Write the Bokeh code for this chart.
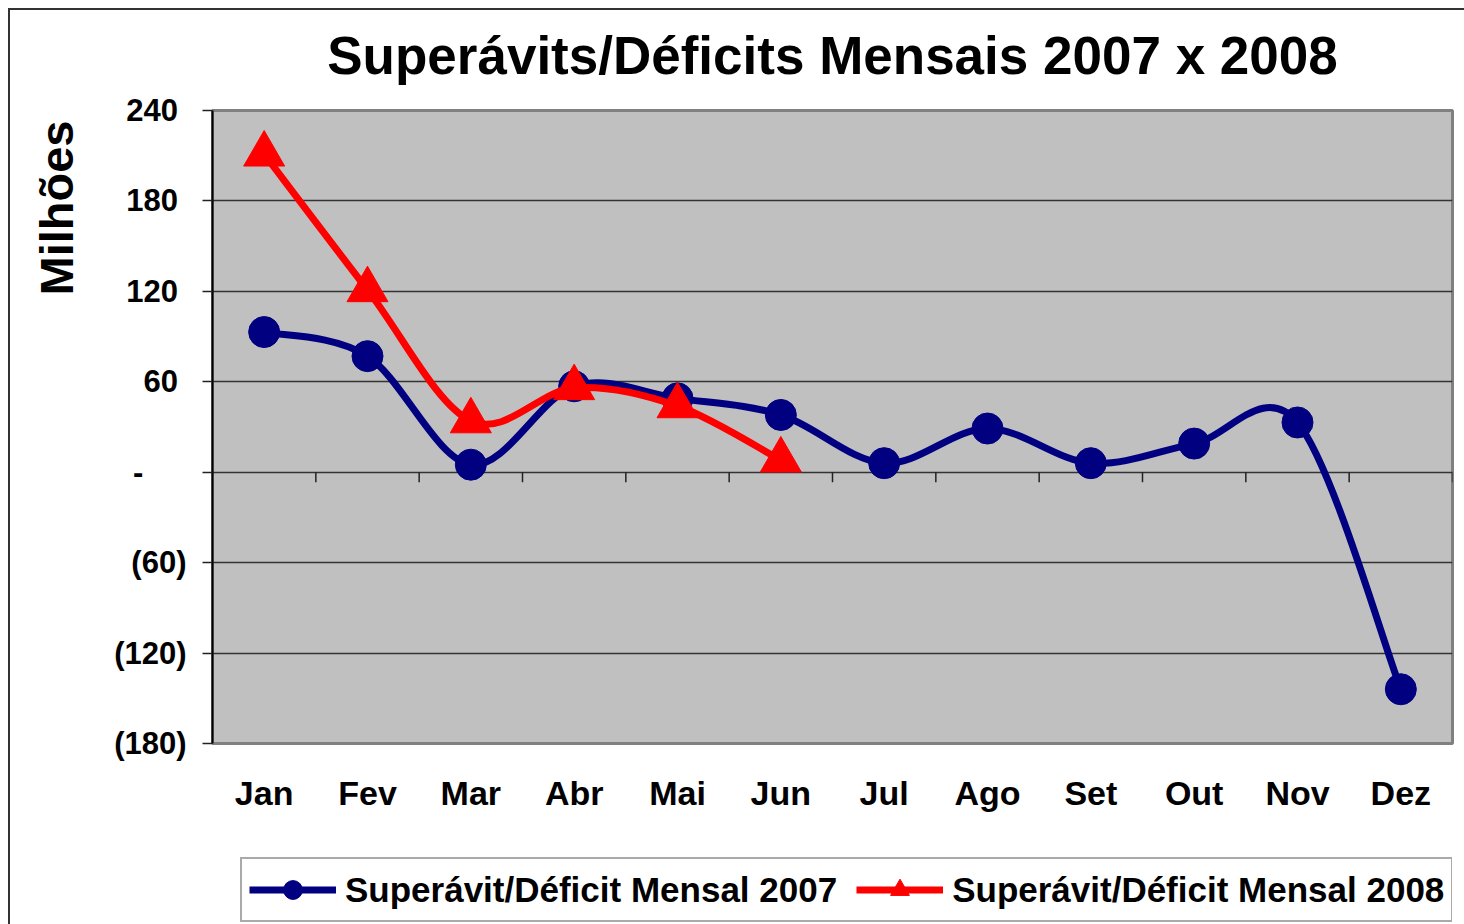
from bokeh.plotting import figure
from bokeh.layouts import column
from bokeh.models import (FixedTicker, Legend, LegendItem, ColumnDataSource, Range1d, Title)
from bokeh.embed import file_html
from bokeh.resources import INLINE

# ---------------- data ----------------
months = ["Jan", "Fev", "Mar", "Abr", "Mai", "Jun", "Jul", "Ago", "Set", "Out", "Nov", "Dez"]
values_2007 = [93, 77, 5, 57, 49, 38, 6, 29, 6, 19, 33, -144]
values_2008 = [211, 121, 34, 56, 44, 8]
y_ticks = [-180, -120, -60, 0, 60, 120, 180, 240]
y_tick_labels = ["(180)", "(120)", "(60)", "-", "60", "120", "180", "240"]
title_text = "Superávits/Déficits Mensais 2007 x 2008"
y_title = "Milhões"
legend_labels = ["Superávit/Déficit Mensal 2007", "Superávit/Déficit Mensal 2008"]

# ---------------- style ----------------
FONT = "Liberation Sans"
NAVY = "#000080"
RED = "#FF0000"
W = 1464
H_MAIN, H_LEG = 829, 95
ML, MT, MR, MB = 212, 110, 12, 86
FRAME_H = H_MAIN - MT - MB

x_pos = list(range(1, len(months) + 1))
x07 = x_pos
x08 = x_pos[:len(values_2008)]

p = figure(width=W, height=H_MAIN, output_backend="svg", toolbar_location=None,
           x_range=Range1d(0.5, 12.5), y_range=Range1d(-180, 240),
           min_border_left=ML, min_border_top=MT, min_border_right=MR, min_border_bottom=MB)
p.background_fill_color = "#C0C0C0"
p.border_fill_alpha = 0
p.outline_line_color = "#808080"
p.outline_line_width = 3
# outer chart frame (left and top edges) drawn behind the transparent canvas border
p.styles = {"background": "linear-gradient(#333,#333) 8px 8px / 2px 100% no-repeat, "
                          "linear-gradient(#333,#333) 8px 8px / 100% 2px no-repeat, #ffffff"}

# chart title
p.title.text = title_text
p.title.align = "center"
p.title.vertical_align = "top"
p.title.standoff = 48
p.title.text_font = FONT
p.title.text_font_style = "bold"
p.title.text_font_size = "53px"
p.title.text_color = "black"

# axes
xa = p.xaxis[0]
xa.ticker = FixedTicker(ticks=x_pos)
xa.major_label_overrides = {x: m for x, m in zip(x_pos, months)}
xa.axis_line_color = None
xa.major_tick_line_color = None
xa.minor_tick_line_color = None
xa.major_tick_out = 0
xa.major_tick_in = 0
xa.major_label_standoff = 30
xa.major_label_text_font = FONT
xa.major_label_text_font_style = "bold"
xa.major_label_text_font_size = "34px"
xa.major_label_text_color = "black"

def ylab(s):
    if s == "-":
        return "-\u2007\u2007\u2008"
    if s.startswith("("):
        return s
    return s + "\u2008"

ya = p.yaxis[0]
ya.ticker = FixedTicker(ticks=y_ticks)
ya.major_label_overrides = {t: ylab(s) for t, s in zip(y_ticks, y_tick_labels)}
ya.axis_line_color = "black"
ya.axis_line_width = 2
ya.major_tick_out = 10
ya.major_tick_in = 0
ya.major_tick_line_color = "#222222"
ya.major_tick_line_width = 1.5
ya.minor_tick_line_color = None
ya.major_label_standoff = 16
ya.major_label_text_font = FONT
ya.major_label_text_font_style = "bold"
ya.major_label_text_font_size = "31px"
ya.major_label_text_color = "black"

p.add_layout(Title(text=y_title, align="right", vertical_align="middle", offset=10, standoff=56,
                   text_font=FONT, text_font_style="bold", text_font_size="47px",
                   text_color="black"), "left")

p.xgrid.grid_line_color = None
p.ygrid.ticker = FixedTicker(ticks=y_ticks)
p.ygrid.grid_line_color = "#333333"
p.ygrid.grid_line_width = 1.5

# category tick marks on the zero line
tick_len = 10 * (240 - (-180)) / FRAME_H
bounds = [x + 0.5 for x in x_pos]
p.segment(x0=bounds, y0=[0] * len(bounds), x1=bounds, y1=[-tick_len] * len(bounds),
          line_color="#222222", line_width=1.5)

# smoothed lines (Catmull-Rom style bezier, like Excel's smoothed line)
def smooth_source(xs, ys):
    n = len(xs)
    d = {k: [] for k in ["x0", "y0", "x1", "y1", "cx0", "cy0", "cx1", "cy1"]}
    for i in range(n - 1):
        im, i2 = max(i - 1, 0), min(i + 2, n - 1)
        d["x0"].append(xs[i]); d["y0"].append(ys[i])
        d["x1"].append(xs[i + 1]); d["y1"].append(ys[i + 1])
        d["cx0"].append(xs[i] + (xs[i + 1] - xs[im]) / 6)
        d["cy0"].append(ys[i] + (ys[i + 1] - ys[im]) / 6)
        d["cx1"].append(xs[i + 1] - (xs[i2] - xs[i]) / 6)
        d["cy1"].append(ys[i + 1] - (ys[i2] - ys[i]) / 6)
    return ColumnDataSource(d)

BZ = dict(x0="x0", y0="y0", x1="x1", y1="y1", cx0="cx0", cy0="cy0", cx1="cx1", cy1="cy1")
p.bezier(source=smooth_source(x07, values_2007), line_color=NAVY, line_width=7,
         line_cap="round", **BZ)
p.scatter(x07, values_2007, marker="circle", size=31, fill_color=NAVY, line_color=NAVY)
p.bezier(source=smooth_source(x08, values_2008), line_color=RED, line_width=7,
         line_cap="round", **BZ)
p.scatter(x08, values_2008, marker="triangle", size=41, fill_color=RED, line_color=RED)

# ---------------- legend strip (own figure, below the chart) ----------------
q = figure(width=W, height=H_LEG, output_backend="svg", toolbar_location=None,
           x_axis_type=None, y_axis_type=None,
           x_range=Range1d(-20, -10), y_range=Range1d(-20, -10),   # series kept out of view
           min_border_left=ML, min_border_top=0, min_border_right=MR, min_border_bottom=0)
q.title = None
q.outline_line_color = None
q.background_fill_alpha = 0
q.border_fill_alpha = 0
q.xgrid.visible = False
q.ygrid.visible = False
q.styles = {"background": "linear-gradient(#333,#333) 8px 0 / 2px 100% no-repeat, #ffffff"}

l07 = q.line(x07, values_2007, line_color=NAVY, line_width=7)
m07 = q.scatter(x07, values_2007, marker="circle", size=31, fill_color=NAVY, line_color=NAVY)
l08 = q.line(x08, values_2008, line_color=RED, line_width=7)
m08 = q.scatter(x08, values_2008, marker="triangle", size=41, fill_color=RED, line_color=RED)

legend = Legend(items=[LegendItem(label=legend_labels[0], renderers=[l07, m07]),
                       LegendItem(label=legend_labels[1], renderers=[l08, m08])],
                orientation="horizontal", location="top_left", margin=28,
                glyph_width=87, glyph_height=47, padding=7, spacing=19, label_standoff=9,
                border_line_color="#555555", border_line_width=2,
                background_fill_color="white", background_fill_alpha=1,
                label_text_font=FONT, label_text_font_style="bold",
                label_text_font_size="35px", label_text_color="black")
q.add_layout(legend)

page = column(p, q, spacing=0)
open("out.html", "w").write(file_html(page, INLINE))
